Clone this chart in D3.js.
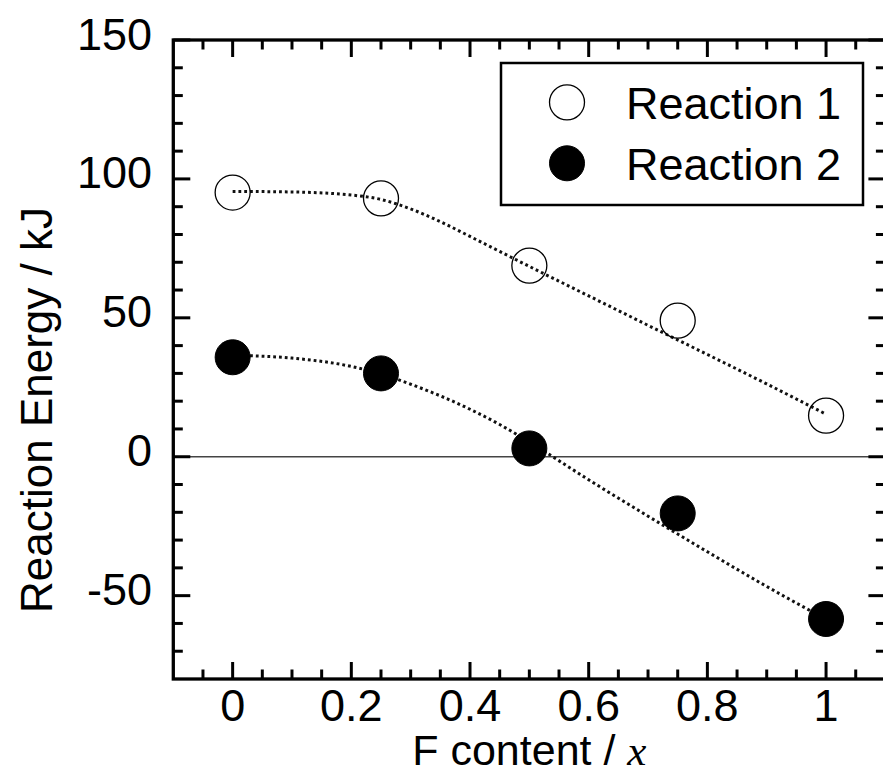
<!DOCTYPE html>
<html>
<head>
<meta charset="utf-8">
<script src="https://cdn.jsdelivr.net/npm/d3@7"></script>
<style>
html,body{margin:0;padding:0;background:#fff;}
svg{display:block;}
text{font-family:"Liberation Sans",Arial,sans-serif;fill:#000;}
</style>
</head>
<body>
<svg id="chart" width="883" height="776"></svg>
<script>
// ---- data ----
const xValues = [0, 0.25, 0.5, 0.75, 1];
const reaction1 = [95.1, 93.0, 68.8, 49.0, 14.8];
const reaction2 = [35.8, 30.0, 3.0, -20.4, -58.4];
const fitX  = [0, 0.1, 0.2, 0.25, 0.3, 0.35, 0.4, 0.45, 0.5, 0.6, 0.7, 0.8, 0.9, 1.0];
const fit1  = [95.5, 95.3, 94.2, 92.6, 89.2, 84.6, 79.3, 73.9, 68.5, 57.9, 47.3, 36.8, 26.2, 15.3];
const fit2  = [36.5, 35.5, 32.5, 29.8, 26.1, 21.9, 17.1, 11.6, 5.3, -8.3, -21.4, -34.2, -46.7, -58.5];
const xMajorTicks = [0, 0.2, 0.4, 0.6, 0.8, 1];
const xTickLabels = ["0", "0.2", "0.4", "0.6", "0.8", "1"];
const yMajorTicks = [-50, 0, 50, 100, 150];
const yTickLabels = ["-50", "0", "50", "100", "150"];
const seriesNames = ["Reaction 1", "Reaction 2"];

(function(){
// ---- layout ----
const svg = d3.select("#chart");
const pL = 173.3, pR = 885.4, pT = 40, pB = 679;
const x = d3.scaleLinear().domain([-0.1, 1.1]).range([pL, pR]);
const y = d3.scaleLinear().domain([-80, 150]).range([pB, pT]);

const xMinor = d3.range(-0.05, 1.1, 0.05).map(v => +v.toFixed(2)).filter(v => !xMajorTicks.some(m => Math.abs(m - v) < 1e-6));
const yMinor = d3.range(-70, 150, 10).filter(v => !yMajorTicks.includes(v));

const g = svg.append("g");

// zero reference line
g.append("line")
  .attr("x1", x(-0.1)).attr("x2", x(1.1))
  .attr("y1", y(0)).attr("y2", y(0))
  .attr("stroke", "#444").attr("stroke-width", 1.5);

// ticks
const majorLen = 17, minorLen = 9.5, tickW = 3;
function vt(v, len){
  g.append("line").attr("x1", x(v)).attr("x2", x(v)).attr("y1", pB).attr("y2", pB - len)
    .attr("stroke", "#000").attr("stroke-width", tickW);
  g.append("line").attr("x1", x(v)).attr("x2", x(v)).attr("y1", pT).attr("y2", pT + len)
    .attr("stroke", "#000").attr("stroke-width", tickW);
}
function ht(v, len){
  g.append("line").attr("y1", y(v)).attr("y2", y(v)).attr("x1", pL).attr("x2", pL + len)
    .attr("stroke", "#000").attr("stroke-width", tickW);
  g.append("line").attr("y1", y(v)).attr("y2", y(v)).attr("x1", pR).attr("x2", pR - len)
    .attr("stroke", "#000").attr("stroke-width", tickW);
}
xMajorTicks.forEach(v => vt(v, majorLen));
xMinor.forEach(v => vt(v, minorLen));
yMajorTicks.forEach(v => ht(v, majorLen));
yMinor.forEach(v => ht(v, minorLen));

// frame
g.append("rect").attr("x", pL).attr("y", pT).attr("width", pR - pL).attr("height", pB - pT)
  .attr("fill", "none").attr("stroke", "#000").attr("stroke-width", 3.3);

// tick labels
g.selectAll(".xl").data(xMajorTicks).enter().append("text")
  .attr("x", d => x(d)).attr("y", 721).attr("text-anchor", "middle")
  .attr("font-size", 45).text((d, i) => xTickLabels[i]);
g.selectAll(".yl").data(yMajorTicks).enter().append("text")
  .attr("x", 152).attr("y", d => y(d) + 9.5).attr("text-anchor", "end")
  .attr("font-size", 45).text((d, i) => yTickLabels[i]);

// axis titles
const xt = g.append("text").attr("x", x(0.5)).attr("y", 765).attr("text-anchor", "middle").attr("font-size", 43);
xt.append("tspan").text("F content / ");
xt.append("tspan").attr("font-family", "'Liberation Serif','Times New Roman',serif").attr("font-style", "italic").text("x");

g.append("text").attr("transform", "translate(52,410) rotate(-90)")
  .attr("text-anchor", "middle").attr("font-size", 44).text("Reaction Energy / kJ");

// fit curves
const line = d3.line().x(d => x(d[0])).y(d => y(d[1])).curve(d3.curveMonotoneX);
[fit1, fit2].forEach(f => {
  g.append("path").datum(fitX.map((v, i) => [v, f[i]]))
    .attr("d", line).attr("fill", "none").attr("stroke", "#111")
    .attr("stroke-width", 3).attr("stroke-dasharray", "2.8,3");
});

// points
const r = 17.5;
g.selectAll(".p1").data(xValues).enter().append("circle")
  .attr("cx", d => x(d)).attr("cy", (d, i) => y(reaction1[i])).attr("r", r)
  .attr("fill", "none").attr("stroke", "#000").attr("stroke-width", 1.3);
g.selectAll(".p2").data(xValues).enter().append("circle")
  .attr("cx", d => x(d)).attr("cy", (d, i) => y(reaction2[i])).attr("r", r)
  .attr("fill", "#000").attr("stroke", "#000").attr("stroke-width", 1);

// legend
const lg = g.append("g");
lg.append("rect").attr("x", 501).attr("y", 63).attr("width", 362).attr("height", 142)
  .attr("fill", "#fff").attr("stroke", "#000").attr("stroke-width", 2.5);
const legY = [102.3, 163.3];
seriesNames.forEach((name, i) => {
  lg.append("circle").attr("cx", 567).attr("cy", legY[i]).attr("r", r)
    .attr("fill", i === 0 ? "#fff" : "#000").attr("stroke", "#000").attr("stroke-width", i === 0 ? 1.3 : 1);
  lg.append("text").attr("x", 626).attr("y", legY[i] + 17).attr("font-size", 45).text(name);
});
})();
</script>
</body>
</html>
